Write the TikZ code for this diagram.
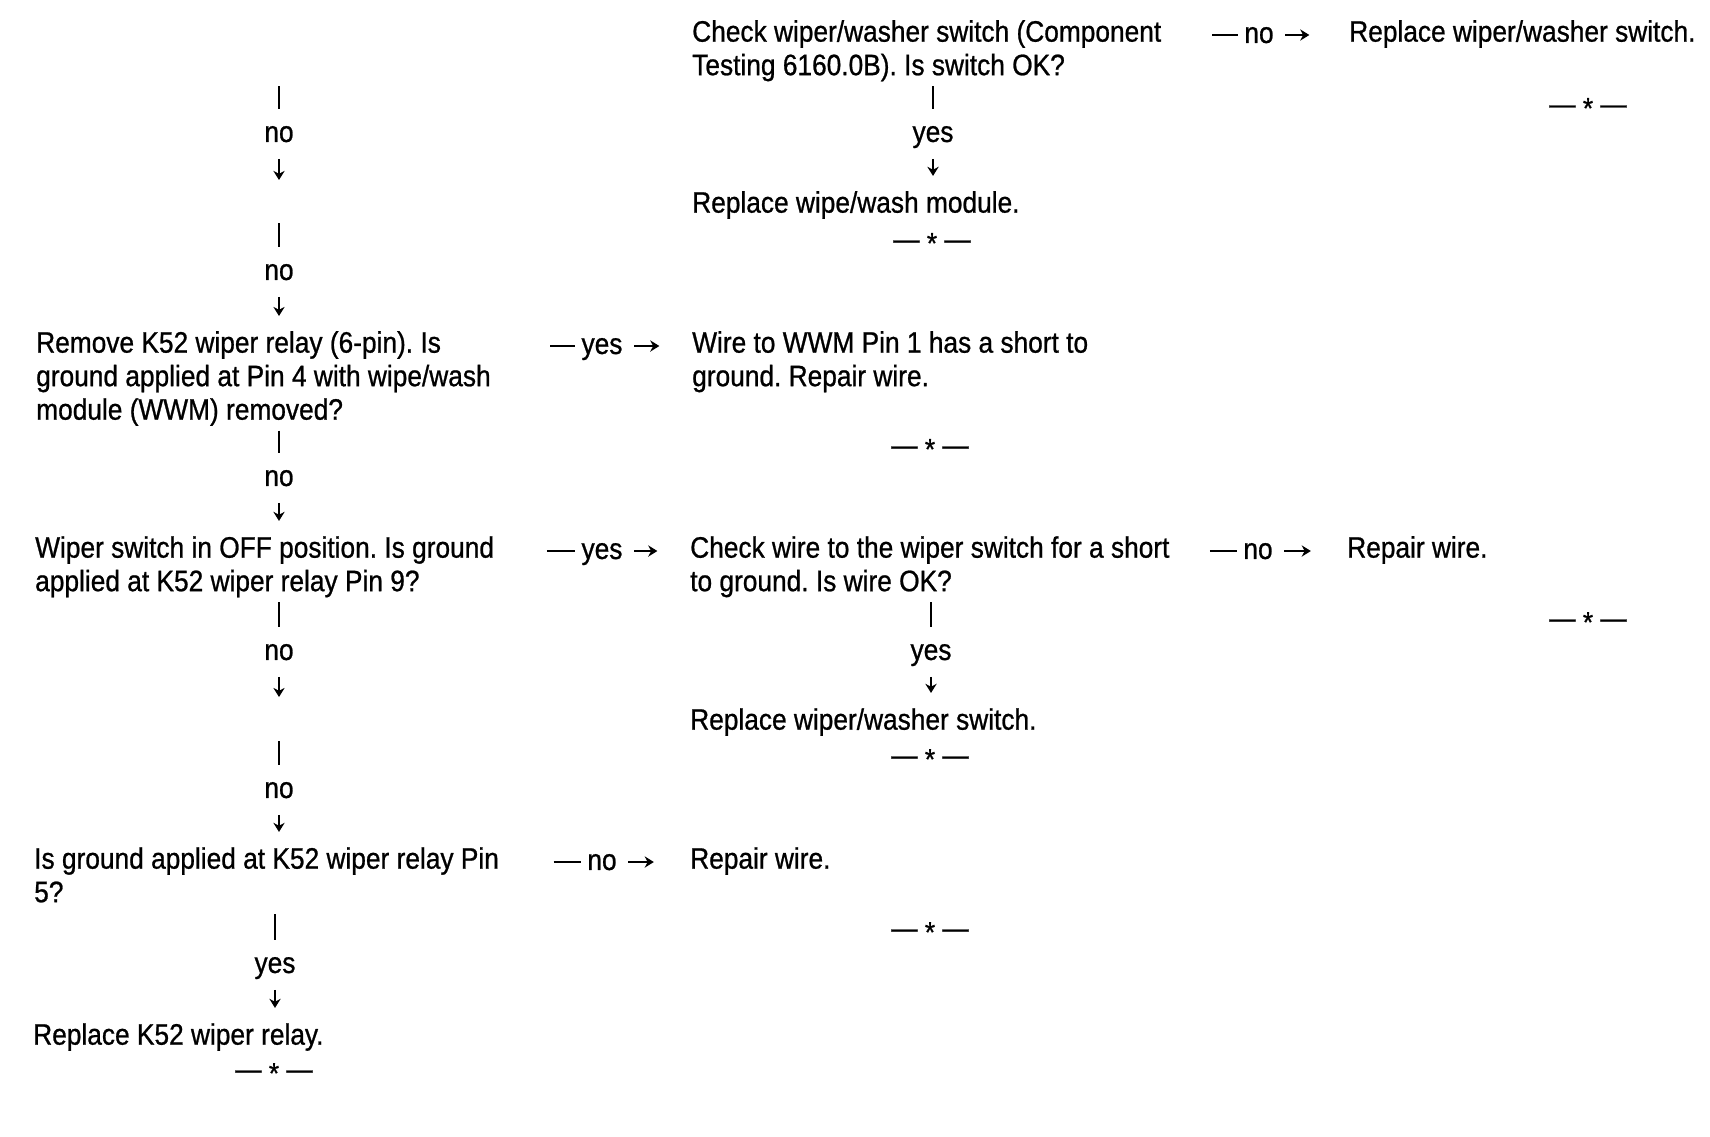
\documentclass[tikz,border=0pt]{standalone}
\usepackage{fontspec}
\setmainfont{Liberation Sans}[FakeStretch=0.89, FakeBold=0.8]
\usepackage{tikz}
\usetikzlibrary{arrows.meta}
\frenchspacing

\newcommand{\stopmark}{\textemdash\ \raisebox{-0.15em}{*}\ \textemdash}

\begin{document}
\begin{tikzpicture}[x=0.01cm, y=-0.01cm, line width=0.7pt, >={Stealth[length=2.6pt,width=3.2pt]},
    font=\fontsize{8.4}{9.53}\selectfont,
    txt/.style={anchor=north west, align=left, inner sep=0pt},
    lbl/.style={inner xsep=1.5pt, inner ysep=0pt, minimum height=0.47cm, text depth=0pt},
    stop/.style={anchor=base, inner sep=0pt},
    bar/.style={shorten <=1pt},
    arr/.style={->, shorten >=4pt}]

    \useasboundingbox (0,0) rectangle (1710,1136);

    % left column
    \node [txt] (relay) at (35,330) {Remove K52 wiper relay (6-pin). Is\\ground applied at Pin 4 with wipe/wash\\module (WWM) removed?};
    \node [txt] (offpos) at (34,535) {Wiper switch in OFF position. Is ground\\applied at K52 wiper relay Pin 9?};
    \node [txt] (pinfive) at (33,846) {Is ground applied at K52 wiper relay Pin\\5?};
    \node [txt] (newrelay) at (32,1022) {Replace K52 wiper relay.};
    \node [stop] (stopA) at (274,1079) {\stopmark};

    % middle column
    \node [txt] (switch) at (691,19) {Check wiper/washer switch (Component\\Testing 6160.0B). Is switch OK?};
    \node [txt] (module) at (691,190) {Replace wipe/wash module.};
    \node [stop] (stopB) at (932,249) {\stopmark};
    \node [txt] (short) at (691,330) {Wire to WWM Pin 1 has a short to\\ground. Repair wire.};
    \node [stop] (stopC) at (930,455) {\stopmark};
    \node [txt] (wire) at (689,535) {Check wire to the wiper switch for a short\\to ground. Is wire OK?};
    \node [txt] (newswitch) at (689,707) {Replace wiper/washer switch.};
    \node [stop] (stopD) at (930,765) {\stopmark};
    \node [txt] (repairB) at (689,846) {Repair wire.};
    \node [stop] (stopE) at (930,938) {\stopmark};

    % right column
    \node [txt] (switchR) at (1348,19) {Replace wiper/washer switch.};
    \node [stop] (stopF) at (1588,114) {\stopmark};
    \node [txt] (repairR) at (1346,535) {Repair wire.};
    \node [stop] (stopG) at (1588,628) {\stopmark};

    % answer labels
    \node [lbl] (noA) at (279,134) {no};
    \node [lbl] (noB) at (279,272) {no};
    \node [lbl] (noC) at (279,478) {no};
    \node [lbl] (noD) at (279,652) {no};
    \node [lbl] (noE) at (279,790) {no};
    \node [lbl] (yesF) at (275,965) {yes};
    \node [lbl] (yesG) at (933,134) {yes};
    \node [lbl] (yesH) at (931,652) {yes};
    \node [lbl] (yesI) at (602,346) {yes};
    \node [lbl] (yesJ) at (602,551) {yes};
    \node [lbl] (noK) at (602,862) {no};
    \node [lbl] (noL) at (1259,35) {no};
    \node [lbl] (noM) at (1258,551) {no};

    \coordinate (topA) at (279,86);
    \coordinate (gapA) at (279,180);
    \coordinate (topB) at (279,223);
    \coordinate (gapB) at (279,316);
    \coordinate (gapC) at (279,697);
    \coordinate (topC) at (279,741);

    % vertical answers
    \draw (topA) -- (noA);
    \draw [->] (noA) -- (gapA);
    \draw (topB) -- (noB);
    \draw [->] (noB) -- (gapB);
    \draw [bar] (relay.south -| noC) -- (noC);
    \draw [arr] (noC) -- (offpos.north -| noC);
    \draw [bar] (offpos.south -| noD) -- (noD);
    \draw [->] (noD) -- (gapC);
    \draw (topC) -- (noE);
    \draw [arr] (noE) -- (pinfive.north -| noE);
    \draw [bar, shorten <=3pt] (pinfive.south -| yesF) -- (yesF);
    \draw [arr] (yesF) -- (newrelay.north -| yesF);
    \draw [bar] (switch.south -| yesG) -- (yesG);
    \draw [arr] (yesG) -- (module.north -| yesG);
    \draw [bar] (wire.south -| yesH) -- (yesH);
    \draw [arr] (yesH) -- (newswitch.north -| yesH);

    % horizontal answers
    \draw [shorten <=16.5pt] (relay.east |- yesI) -- (yesI);
    \draw [arr, shorten <=1.5pt, shorten >=9pt] (yesI) -- (short.west |- yesI);
    \draw [shorten <=14.7pt] (offpos.east |- yesJ) -- (yesJ);
    \draw [arr, shorten <=1.5pt, shorten >=9pt] (yesJ) -- (wire.west |- yesJ);
    \draw [shorten <=15.2pt] (pinfive.east |- noK) -- (noK);
    \draw [arr, shorten <=1.5pt, shorten >=10pt] (noK) -- (repairB.west |- noK);
    \draw [shorten <=14.1pt] (switch.east |- noL) -- (noL);
    \draw [arr, shorten <=1.5pt, shorten >=11pt] (noL) -- (switchR.west |- noL);
    \draw [shorten <=11.1pt] (wire.east |- noM) -- (noM);
    \draw [arr, shorten <=1.5pt, shorten >=10pt] (noM) -- (repairR.west |- noM);
\end{tikzpicture}
\end{document}
